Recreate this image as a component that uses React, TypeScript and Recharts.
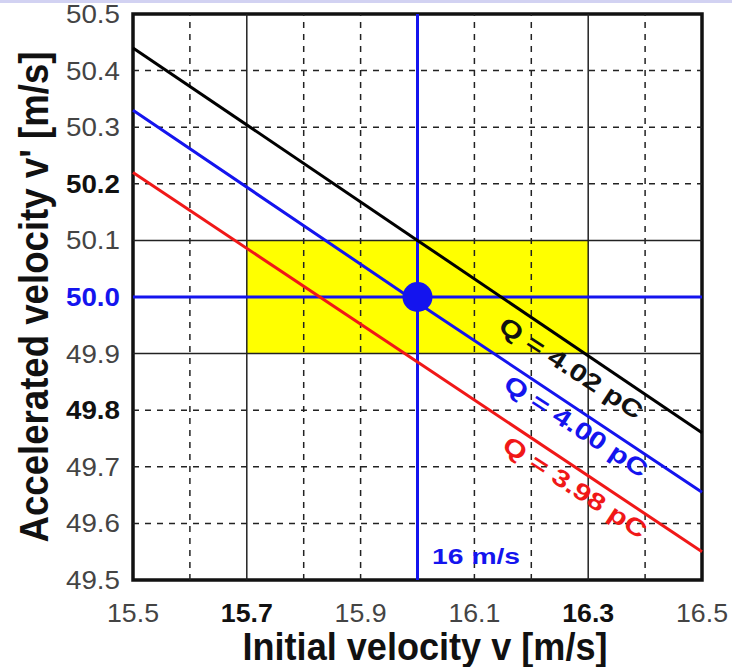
import React from 'react'
import {
  ComposedChart, Line, XAxis, YAxis, ReferenceLine, ReferenceArea, ReferenceDot
} from 'recharts'

// initial velocity samples (m/s)
const velocities = [15.5, 16.0, 16.5]
// accelerated velocity for each charge
const q402 = [50.44, 50.10, 49.76]
const q400 = [50.33, 49.99, 49.655]
const q398 = [50.22, 49.885, 49.55]

const xTicks = [15.5, 15.7, 15.9, 16.1, 16.3, 16.5]
const yTicks = [49.5, 49.6, 49.7, 49.8, 49.9, 50.0, 50.1, 50.2, 50.3, 50.4, 50.5]
const xDashed = [15.6, 15.8, 15.9, 16.1, 16.2, 16.4]
const yDashed = [49.6, 49.7, 49.8, 50.2, 50.3, 50.4]
const xSolid = [15.7, 16.3]
const ySolid = [49.9, 50.1]
const labels = ['Q = 4.02 pC', 'Q = 4.00 pC', 'Q = 3.98 pC']

const data = velocities.map((v, i) => ({ v, a: q402[i], b: q400[i], c: q398[i] }))

const BLUE = '#1414ee'
const RED = '#f01818'
const FONT = '"Liberation Sans", Arial, sans-serif'

const XTick = ({ x, y, payload }: any) => {
  const v = payload.value
  const bold = v === 15.7 || v === 16.3
  return (
    <text x={x} y={y + 42} textAnchor="middle" fontFamily={FONT} fontSize={25}
      fontWeight={bold ? 700 : 400} fill={bold ? '#111' : '#444'}
      textLength={52} lengthAdjust="spacingAndGlyphs">
      {v.toFixed(1)}
    </text>
  )
}

const YTick = ({ x, y, payload }: any) => {
  const v = payload.value
  const blue = Math.abs(v - 50) < 1e-6
  const bold = blue || Math.abs(v - 50.2) < 1e-6 || Math.abs(v - 49.8) < 1e-6
  return (
    <text x={x} y={y + 9} textAnchor="end" fontFamily={FONT} fontSize={25}
      fontWeight={bold ? 700 : 400} fill={blue ? BLUE : bold ? '#111' : '#444'}
      textLength={54} lengthAdjust="spacingAndGlyphs">
      {v.toFixed(1)}
    </text>
  )
}

const rotText = (text: string, color: string, len: number, size: number, angle: number) => (p: any) => (
  <text x={p.cx} y={p.cy} transform={`rotate(${angle} ${p.cx} ${p.cy})`} textAnchor="middle"
    dominantBaseline="central" fontFamily={FONT} fontWeight={700} fontSize={size} fill={color}
    textLength={len} lengthAdjust="spacingAndGlyphs">
    {text}
  </text>
)

export default function App() {
  return (
    <div style={{ position: 'absolute', left: 0, top: 0, width: 732, height: 667, background: '#fff' }}>
      <div style={{ position: 'absolute', left: 0, top: 0, width: 732, height: 3, background: '#d2d2f2' }} />
      <ComposedChart width={732} height={667} data={data} margin={{ top: 14, right: 30, left: 0, bottom: 0 }}>
        <XAxis type="number" dataKey="v" domain={[15.5, 16.5]} ticks={xTicks} height={87}
          axisLine={false} tickLine={false} tickSize={0} tickMargin={0} tick={<XTick />} interval={0}
          label={{
            content: () => (
              <text x={425} y={660} textAnchor="middle" fontFamily={FONT} fontWeight={700}
                fontSize={38} fill="#111" textLength={365} lengthAdjust="spacingAndGlyphs">
                Initial velocity v [m/s]
              </text>
            )
          }} />
        <YAxis type="number" domain={[49.5, 50.5]} ticks={yTicks} width={133}
          axisLine={false} tickLine={false} tickSize={0} tickMargin={13} tick={<YTick />} interval={0}
          label={{
            content: () => (
              <text x={48} y={297} transform="rotate(-90 48 297)" textAnchor="middle" fontFamily={FONT}
                fontWeight={700} fontSize={40} fill="#111" textLength={491} lengthAdjust="spacingAndGlyphs">
                Accelerated velocity v' [m/s]
              </text>
            )
          }} />

        <ReferenceArea x1={15.7} x2={16.3} y1={49.9} y2={50.1} fill="#ffff00" fillOpacity={1} stroke="none" />

        {xDashed.map(v => (
          <ReferenceLine key={'xd' + v} x={v} stroke="#222" strokeWidth={1.5} strokeDasharray="6 6" />
        ))}
        {yDashed.map(v => (
          <ReferenceLine key={'yd' + v} y={v} stroke="#222" strokeWidth={1.5} strokeDasharray="6 6" />
        ))}
        {xSolid.map(v => (
          <ReferenceLine key={'xs' + v} x={v} stroke="#222" strokeWidth={1.5} />
        ))}
        {ySolid.map(v => (
          <ReferenceLine key={'ys' + v} y={v} stroke="#222" strokeWidth={1.5} />
        ))}
        <ReferenceLine x={16} stroke={BLUE} strokeWidth={3} />
        <ReferenceLine y={50} stroke={BLUE} strokeWidth={3} />

        <Line type="linear" dataKey="a" stroke="#000" strokeWidth={3} dot={false} isAnimationActive={false} />
        <Line type="linear" dataKey="b" stroke={BLUE} strokeWidth={3} dot={false} isAnimationActive={false} />
        <Line type="linear" dataKey="c" stroke={RED} strokeWidth={3} dot={false} isAnimationActive={false} />

        <ReferenceDot x={16} y={50} r={15} fill={BLUE} stroke="none" />

        <ReferenceDot x={16.27} y={49.875} r={0} shape={rotText(labels[0], '#111', 166, 24, 33)} />
        <ReferenceDot x={16.279} y={49.772} r={0} shape={rotText(labels[1], BLUE, 166, 24, 33)} />
        <ReferenceDot x={16.277} y={49.664} r={0} shape={rotText(labels[2], RED, 166, 24, 33)} />
        <ReferenceDot x={16.103} y={49.541} r={0} shape={rotText('16 m/s', BLUE, 88, 22, 0)} />

        <ReferenceArea x1={15.5} x2={16.5} y1={49.5} y2={50.5} fill="none" stroke="#111" strokeWidth={3.5} />
      </ComposedChart>
    </div>
  )
}
